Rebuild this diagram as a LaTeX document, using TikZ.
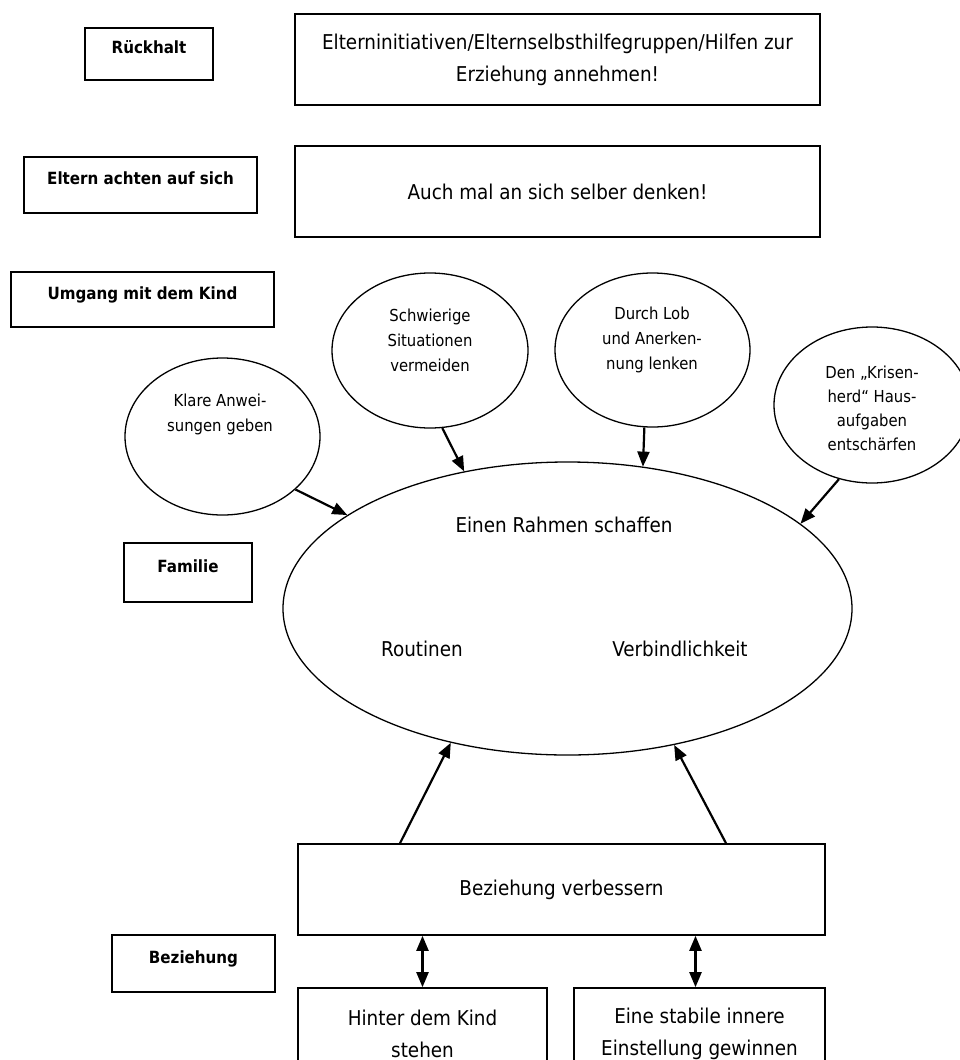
\documentclass[tikz,border=0pt]{standalone}
\usepackage{fontspec}
\setmainfont{DejaVu Sans Condensed}
\usepackage{tikz}
\usetikzlibrary{shapes.geometric}
\usetikzlibrary{arrows.meta}
\tikzset{arrowline/.style = {->, >={Triangle[length=15pt,width=12pt]}, line width=2.2pt}}

\begin{document}
\begin{tikzpicture}[x=1pt, y=-1pt,
    tagbox/.style={rectangle, draw, line width=1.6pt, inner sep=0pt, font=\fontsize{16.8}{20}\selectfont\bfseries, text height=12pt, text depth=13pt},
    textbox/.style={rectangle, draw, line width=1.6pt, inner sep=0pt, align=center, font=\fontsize{20.4}{32}\selectfont},
    bubble/.style={ellipse, draw, line width=1.3pt, inner sep=0pt},
    bubbletext/.style={align=center, font=\fontsize{16.5}{25}\selectfont},
    plaintext/.style={font=\fontsize{20.4}{24}\selectfont}]
                \clip (0,0) rectangle (960,1060);

                % labels on the left
                \node[tagbox, minimum width=128pt, minimum height=52pt] (rueckhalt) at (149,54) {Rückhalt};
                \node[tagbox, minimum width=233pt, minimum height=56pt] (eltern) at (140.5,185) {Eltern achten auf sich};
                \node[tagbox, minimum width=263pt, minimum height=55pt] (umgang) at (142.5,299.5) {Umgang mit dem Kind};
                \node[tagbox, minimum width=128pt, minimum height=59pt] (familie) at (188,572.5) {Familie};
                \node[tagbox, minimum width=163pt, minimum height=57pt] (beziehung) at (193.5,963.5) {Beziehung};

                % boxes
                \node[textbox, minimum width=525pt, minimum height=91pt] (initiativen) at (557.5,59.5) {Elterninitiativen/Elternselbsthilfegruppen/Hilfen zur\\Erziehung annehmen!};
                \node[textbox, minimum width=525pt, minimum height=91pt] (selber) at (557.5,191.5) {Auch mal an sich selber denken!};
                \node[textbox, minimum width=527pt, minimum height=91pt] (verbessern) at (561.5,889.5) {Beziehung verbessern};
                \node[textbox, minimum width=249pt, minimum height=91pt] (hinter) at (422.5,1033.5) {Hinter dem Kind\\stehen};
                \node[textbox, minimum width=251pt, minimum height=91pt] (stabil) at (699.5,1033.5) {Eine stabile innere\\Einstellung gewinnen};

                % ellipses
                \node[bubble, minimum width=195pt, minimum height=157pt] (klare) at (222.5,436.5) {};
                \node[bubble, minimum width=196pt, minimum height=155pt] (schwierig) at (430,350.5) {};
                \node[bubble, minimum width=195pt, minimum height=154pt] (lob) at (652.5,350) {};
                \node[bubble, minimum width=196pt, minimum height=156pt] (krise) at (872,405) {};
                \node[bubble, minimum width=569pt, minimum height=293pt] (rahmen) at (567.5,608.5) {};

                \node[bubbletext] (klaretext) at (220,414.5) {Klare Anwei-\\sungen geben};
                \node[bubbletext] (schwierigtext) at (430,340) {Schwierige\\Situationen\\vermeiden};
                \node[bubbletext] (lobtext) at (652,340) {Durch Lob\\und Anerken-\\nung lenken};
                \node[bubbletext, font=\fontsize{16.5}{24}\selectfont] (krisetext) at (872,408) {Den „Krisen-\\herd“ Haus-\\aufgaben\\entschärfen};

                \node[plaintext] (rahmentext) at (564,525) {Einen Rahmen schaffen};
                \node[plaintext] (routinen) at (422,649) {Routinen};
                \node[plaintext] (verbindlich) at (680,649) {Verbindlichkeit};

                \path
                    (klare.-36) edge[arrowline] (rahmen.157)
                    (schwierig.-81) edge[arrowline] (rahmen.127)
                    (lob.-96) edge[arrowline] (rahmen.62)
                    (krise.-114) edge[arrowline] (rahmen.20)
                    ([xshift=-161.5pt]verbessern.north) edge[arrowline] (rahmen.-131)
                    ([xshift=164.5pt]verbessern.north) edge[arrowline] (rahmen.-52)
                    (hinter.north) edge[arrowline, <->] (hinter.north |- verbessern.south)
                    ([xshift=-4pt]stabil.north) edge[arrowline, <->] ([xshift=-4pt]stabil.north |- verbessern.south)
                    ;
\end{tikzpicture}
\end{document}
